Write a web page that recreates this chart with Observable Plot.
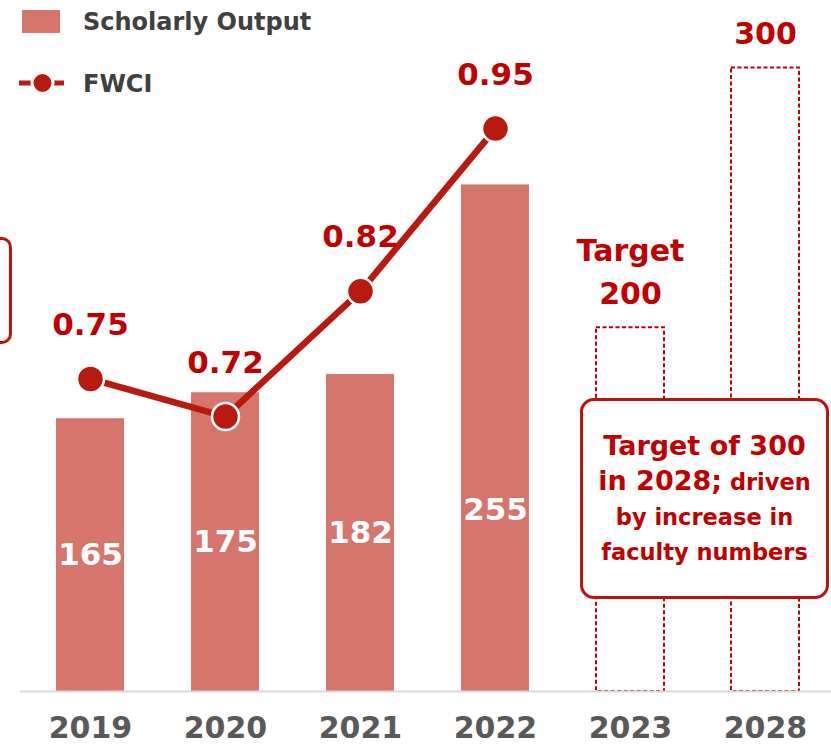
<!DOCTYPE html>
<html><head><meta charset="utf-8">
<script src="https://cdn.jsdelivr.net/npm/d3@7"></script>
<script src="https://cdn.jsdelivr.net/npm/@observablehq/plot@0.6"></script>
<style>
html,body{margin:0;padding:0;background:#fff;}
#wrap{position:relative;width:831px;height:744px;overflow:hidden;font-family:"DejaVu Sans",Verdana,sans-serif;}
#wrap svg.plotlayer{position:absolute;left:0;top:0;}
#legend{position:absolute;left:0;top:0;}
.note{position:absolute;box-sizing:border-box;border:3px solid #c0120c;border-radius:14px;background:#fff;
  display:flex;flex-direction:column;justify-content:center;align-items:center;color:#c00000;font-weight:bold;
  font-size:22.5px;line-height:35px;white-space:nowrap;}
.note .big{font-size:27px;}
</style></head>
<body><div id="wrap"></div>
<script>
// ---- data ----
const years = ["2019", "2020", "2021", "2022", "2023", "2028"];
const outputYears = ["2019", "2020", "2021", "2022"];
const outputValues = [165, 175, 182, 255];
const targetYears = ["2023", "2028"];
const targetValues = [200, 300];
const targetLabels = ["Target\n200", "300"];
const fwciYears = ["2019", "2020", "2021", "2022"];
const fwciValues = [0.75, 0.72, 0.82, 0.95];

// ---- styles ----
const barColor = "#d5756c";
const lineColor = "#b81a10";
const red = "#c00000";
const font = "'DejaVu Sans', Verdana, sans-serif";

const output = outputYears.map((year, i) => ({year, value: outputValues[i]}));
const targets = targetYears.map((year, i) => ({year, value: targetValues[i], label: targetLabels[i]}));
const fwci = fwciYears.map((year, i) => ({year, value: fwciValues[i]}));

const W = 831, H = 744;
const yMin = 60;
const xScale = {type: "band", domain: years, range: [-12.5, 866.5], padding: 0.5, label: null};
const common = {width: W, height: H, marginTop: 0, marginBottom: 53, marginLeft: 0, marginRight: 0,
  style: {fontFamily: font, background: "transparent", overflow: "visible"}};

const bars = Plot.plot({
  ...common,
  x: xScale,
  y: {domain: [yMin, 326], axis: null},
  marks: [
    Plot.barY(output, {x: "year", y1: yMin, y2: "value", fill: barColor}),
    Plot.barY(targets, {x: "year", y1: yMin, y2: "value", fill: "white", stroke: red, strokeWidth: 2, strokeDasharray: "4,2.5"}),
    Plot.ruleY([yMin], {stroke: "#d9d9d9", strokeWidth: 2, insetLeft: 20}),
    Plot.text(output, {x: "year", y: d => Math.min((d.value + yMin) / 2, 130), text: d => String(d.value),
      fill: "white", fontSize: 31, fontWeight: "bold"}),
    Plot.text(targets, {x: "year", y: "value", text: "label", lineAnchor: "bottom", dy: -24, lineHeight: 1.43,
      fill: red, fontSize: 30, fontWeight: "bold"}),
    Plot.axisX({tickSize: 0, tickPadding: 25, fontSize: 30, fontWeight: "bold", color: "#595959", label: null})
  ]
});
bars.classList.add("plotlayer");

const line = Plot.plot({
  ...common,
  x: {...xScale, axis: null},
  y: {domain: [0.5004, 1.0523], axis: null},
  marks: [
    Plot.line(fwci, {x: "year", y: "value", stroke: lineColor, strokeWidth: 6.5, strokeLinejoin: "round"}),
    Plot.dot(fwci, {x: "year", y: "value", r: 13.5, fill: lineColor, stroke: "white", strokeWidth: 2.5}),
    Plot.text(fwci, {x: "year", y: "value", text: d => d.value.toFixed(2), lineAnchor: "bottom", dy: -44,
      fill: red, fontSize: 31, fontWeight: "bold"})
  ]
});
line.classList.add("plotlayer");

const wrap = document.getElementById("wrap");
wrap.appendChild(bars);
wrap.appendChild(line);

// legend
const legend = document.createElementNS("http://www.w3.org/2000/svg", "svg");
legend.setAttribute("id", "legend");
legend.setAttribute("width", 340);
legend.setAttribute("height", 110);
legend.innerHTML = `
  <rect x="22" y="10" width="38" height="23" fill="${barColor}"/>
  <text x="83" y="30" font-family="${font.replace(/'/g, "")}" font-size="24" font-weight="bold" fill="#404040">Scholarly Output</text>
  <line x1="19" x2="64" y1="83" y2="83" stroke="${lineColor}" stroke-width="5"/>
  <circle cx="42.5" cy="83" r="10.5" fill="${lineColor}" stroke="white" stroke-width="3"/>
  <text x="83" y="92" font-family="${font.replace(/'/g, "")}" font-size="24" font-weight="bold" fill="#404040">FWCI</text>`;
wrap.appendChild(legend);

// partial box at left edge
const leftBox = document.createElement("div");
leftBox.className = "note";
leftBox.style.cssText = "left:-100px;top:237px;width:112px;height:107px;border-radius:10px;";
wrap.appendChild(leftBox);

// annotation
const note = document.createElement("div");
note.className = "note";
note.style.cssText = "left:580px;top:398px;width:249px;height:201px;";
note.innerHTML = `<div class="big">Target of 300</div>
  <div><span class="big">in 2028;</span> driven</div>
  <div>by increase in</div>
  <div>faculty numbers</div>`;
wrap.appendChild(note);
</script>
</body></html>
